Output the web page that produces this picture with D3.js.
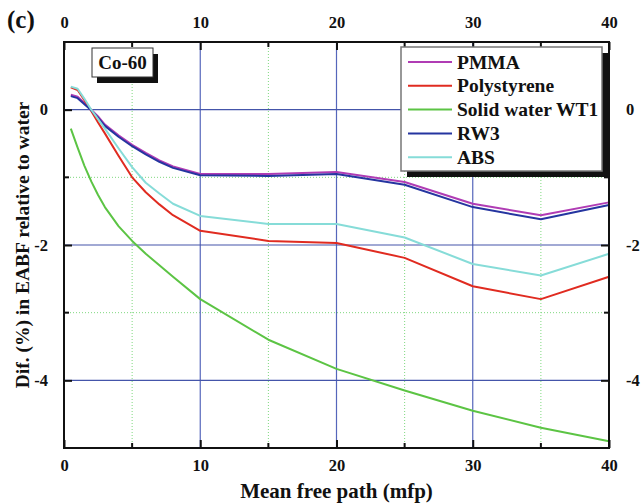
<!DOCTYPE html>
<html>
<head>
<meta charset="utf-8">
<script src="https://cdn.jsdelivr.net/npm/d3@7"></script>
<style>
  body { margin: 0; background: #fff; }
  text { font-family: "Liberation Serif", "DejaVu Serif", serif; font-weight: bold; }
</style>
</head>
<body>
<div id="chart"></div>
<script>
// Data
let mfp = [0.5, 1, 1.5, 2, 2.5, 3, 4, 5, 6, 7, 8, 10, 15, 20, 25, 30, 35, 40];

let pmma        = [0.22, 0.19, 0.10, 0.00, -0.10, -0.22, -0.38, -0.52, -0.64, -0.75, -0.84, -0.95, -0.95, -0.92, -1.07, -1.39, -1.56, -1.37];
let polystyrene = [0.33, 0.29, 0.14, -0.02, -0.19, -0.35, -0.68, -1.00, -1.22, -1.40, -1.56, -1.79, -1.94, -1.97, -2.19, -2.61, -2.80, -2.47];
let solidWater  = [-0.28, -0.56, -0.83, -1.06, -1.26, -1.44, -1.72, -1.94, -2.13, -2.30, -2.47, -2.80, -3.40, -3.83, -4.15, -4.45, -4.70, -4.90];
let rw3         = [0.20, 0.17, 0.08, -0.01, -0.12, -0.24, -0.40, -0.54, -0.66, -0.77, -0.86, -0.97, -0.98, -0.95, -1.11, -1.44, -1.62, -1.41];
let abs         = [0.34, 0.31, 0.16, 0.00, -0.14, -0.28, -0.57, -0.85, -1.08, -1.24, -1.39, -1.57, -1.69, -1.69, -1.89, -2.28, -2.45, -2.13];

let seriesNames  = ["PMMA", "Polystyrene", "Solid water WT1", "RW3", "ABS"];
let seriesValues = [pmma, polystyrene, solidWater, rw3, abs];
let seriesColors = ["#b03cb4", "#e02b20", "#5cc444", "#2535a0", "#86dcd8"];

let xTicks = [0, 10, 20, 30, 40];
let xMinor = [5, 15, 25, 35];
let yTicks = [0, -2, -4];
let yMinor = [-1, -3];

// Layout
let svgWidth = 641;
let svgHeight = 503;
let margin = { top: 42, right: 32, bottom: 55, left: 64 };
let width = svgWidth - margin.left - margin.right;
let height = svgHeight - margin.top - margin.bottom;

let svg = d3.select("#chart")
  .append("svg")
  .attr("width", svgWidth)
  .attr("height", svgHeight);

let chartGroup = svg.append("g")
  .attr("transform", `translate(${margin.left}, ${margin.top})`);

let xScale = d3.scaleLinear().domain([0, 40]).range([0, width]);
let yScale = d3.scaleLinear().domain([-5, 1]).range([height, 0]);

// minor grid (green dotted)
xMinor.forEach(v => {
  chartGroup.append("line")
    .attr("x1", xScale(v)).attr("x2", xScale(v))
    .attr("y1", 0).attr("y2", height)
    .attr("stroke", "#7fd87f").attr("stroke-width", 1)
    .attr("stroke-dasharray", "1,2");
});
yMinor.forEach(v => {
  chartGroup.append("line")
    .attr("x1", 0).attr("x2", width)
    .attr("y1", yScale(v)).attr("y2", yScale(v))
    .attr("stroke", "#7fd87f").attr("stroke-width", 1)
    .attr("stroke-dasharray", "1,2");
});

// major grid (blue)
xTicks.slice(1, -1).forEach(v => {
  chartGroup.append("line")
    .attr("x1", xScale(v)).attr("x2", xScale(v))
    .attr("y1", 0).attr("y2", height)
    .attr("stroke", "#5566bb").attr("stroke-width", 1.2);
});
yTicks.forEach(v => {
  chartGroup.append("line")
    .attr("x1", 0).attr("x2", width)
    .attr("y1", yScale(v)).attr("y2", yScale(v))
    .attr("stroke", "#4455aa").attr("stroke-width", 1.2);
});

// axes with inward ticks on all four sides
let fmt = d => String(d);

let bottomAxis = d3.axisBottom(xScale).tickValues(xTicks).tickSize(-8).tickPadding(11).tickFormat(fmt);
let topAxis = d3.axisTop(xScale).tickValues(xTicks).tickSize(-8).tickPadding(14).tickFormat(fmt);
let leftAxis = d3.axisLeft(yScale).tickValues(yTicks).tickSize(-8).tickPadding(16).tickFormat(fmt);
let rightAxis = d3.axisRight(yScale).tickValues(yTicks).tickSize(-8).tickPadding(17).tickFormat(fmt);

let xAxisB = chartGroup.append("g").attr("transform", `translate(0, ${height})`).call(bottomAxis);
let xAxisT = chartGroup.append("g").call(topAxis);
let yAxisL = chartGroup.append("g").call(leftAxis);
let yAxisR = chartGroup.append("g").attr("transform", `translate(${width}, 0)`).call(rightAxis);

[xAxisB, xAxisT, yAxisL, yAxisR].forEach(a => {
  a.select(".domain").remove();
  a.selectAll(".tick line").attr("stroke", "#111").attr("stroke-width", 2);
  a.selectAll(".tick text").attr("font-size", 16.5).attr("fill", "#111")
    .attr("font-family", "Liberation Serif, serif").attr("font-weight", "bold");
});

// minor ticks
let minorTicks = chartGroup.append("g").attr("stroke", "#111").attr("stroke-width", 2);
xMinor.forEach(v => {
  minorTicks.append("line").attr("x1", xScale(v)).attr("x2", xScale(v)).attr("y1", height).attr("y2", height - 5);
  minorTicks.append("line").attr("x1", xScale(v)).attr("x2", xScale(v)).attr("y1", 0).attr("y2", 5);
});
yMinor.forEach(v => {
  minorTicks.append("line").attr("x1", 0).attr("x2", 5).attr("y1", yScale(v)).attr("y2", yScale(v));
  minorTicks.append("line").attr("x1", width).attr("x2", width - 5).attr("y1", yScale(v)).attr("y2", yScale(v));
});

// series lines
let line = d3.line()
  .x((d, i) => xScale(mfp[i]))
  .y(d => yScale(d));

seriesValues.forEach((vals, i) => {
  chartGroup.append("path")
    .datum(vals)
    .attr("fill", "none")
    .attr("stroke", seriesColors[i])
    .attr("stroke-width", 2)
    .attr("stroke-linejoin", "round")
    .attr("d", line);
});

// frame
chartGroup.append("rect")
  .attr("x", 0).attr("y", 0)
  .attr("width", width).attr("height", height)
  .attr("fill", "none")
  .attr("stroke", "#111")
  .attr("stroke-width", 2);

// Co-60 box
let coGroup = chartGroup.append("g").attr("transform", "translate(28, 6)");
coGroup.append("rect").attr("x", 5).attr("y", 6).attr("width", 61).attr("height", 29).attr("fill", "#111");
coGroup.append("rect").attr("x", 0).attr("y", 0).attr("width", 61).attr("height", 29)
  .attr("fill", "#fff").attr("stroke", "#333").attr("stroke-width", 1);
coGroup.append("text").attr("x", 30.5).attr("y", 21)
  .attr("text-anchor", "middle").attr("font-size", 19).attr("fill", "#111")
  .text("Co-60");

// legend
let legend = chartGroup.append("g").attr("transform", "translate(337, 5)");
legend.append("rect").attr("x", 6).attr("y", 6).attr("width", 201).attr("height", 124).attr("fill", "#111");
legend.append("rect").attr("x", 0).attr("y", 0).attr("width", 201).attr("height", 124)
  .attr("fill", "#fff").attr("stroke", "#777").attr("stroke-width", 1.5);

seriesNames.forEach((name, i) => {
  let ly = 15 + i * 23.8;
  legend.append("line")
    .attr("x1", 7).attr("x2", 51)
    .attr("y1", ly).attr("y2", ly)
    .attr("stroke", seriesColors[i]).attr("stroke-width", 2);
  legend.append("text")
    .attr("x", 56).attr("y", ly + 6.5)
    .attr("font-size", 19.5).attr("fill", "#111")
    .text(name);
});

// axis titles
svg.append("text")
  .attr("x", margin.left + width / 2)
  .attr("y", 498)
  .attr("text-anchor", "middle")
  .attr("font-size", 21)
  .attr("fill", "#111")
  .text("Mean free path (mfp)");

svg.append("text")
  .attr("transform", `translate(29, ${margin.top + height / 2}) rotate(-90)`)
  .attr("text-anchor", "middle")
  .attr("font-size", 19.5)
  .attr("fill", "#111")
  .text("Dif. (%) in EABF relative to water");

// panel label
svg.append("text")
  .attr("x", 7).attr("y", 28)
  .attr("font-size", 25)
  .attr("fill", "#111")
  .text("(c)");
</script>
</body>
</html>
